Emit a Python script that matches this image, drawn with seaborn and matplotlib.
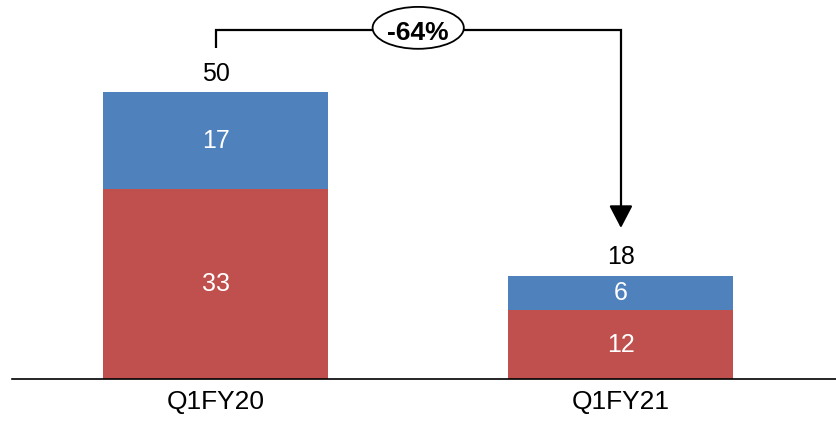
import matplotlib
matplotlib.use("Agg")
import matplotlib.pyplot as plt
from matplotlib.patches import Ellipse
import seaborn as sns
import pandas as pd

categories = ["Q1FY20", "Q1FY21"]
red_values = [33, 12]
blue_values = [17, 6]
change_label = "-64%"

totals = [r + b for r, b in zip(red_values, blue_values)]
df = pd.DataFrame({"period": categories, "red": red_values, "total": totals})

RED = "#C0504D"
BLUE = "#4F81BD"

sns.set_theme(style="white")
plt.rcParams["font.family"] = ["Liberation Sans", "DejaVu Sans"]

fig = plt.figure(figsize=(8.37, 4.23), dpi=100)
ax = fig.add_axes([12 / 837, 44 / 423, 1 - 12 / 837, 379 / 423])

# Stacked bars: full total in blue, lower segment in red over it
sns.barplot(data=df, x="period", y="total", color=BLUE, width=0.555,
            saturation=1, ax=ax, linewidth=0)
sns.barplot(data=df, x="period", y="red", color=RED, width=0.555,
            saturation=1, ax=ax, linewidth=0)

ax.set_xlim(-0.502, 1.533)
ax.set_ylim(0, 66)

for i, (r, b, t) in enumerate(zip(red_values, blue_values, totals)):
    ax.text(i, r / 2, f"{r}", ha="center", va="center", color="white", fontsize=18)
    ax.text(i, r + b / 2, f"{b}", ha="center", va="center", color="white", fontsize=18)
    ax.text(i, t + 1.1, f"{t}", ha="center", va="bottom", color="black", fontsize=18)

# Change bracket from first to second bar
y_top = 60.8
y_start = totals[0] + 7.7
y_end = totals[1] + 8.3
ax.plot([0, 0, 1, 1], [y_start, y_top, y_top, y_end + 2.5], color="black",
        lw=1.6, solid_capstyle="butt", solid_joinstyle="miter", clip_on=False)
ax.annotate("", xy=(1, y_end), xytext=(1, y_end + 3.0),
            arrowprops=dict(arrowstyle="-|>,head_length=1.15,head_width=0.6",
                            color="black", lw=1.6, shrinkA=0, shrinkB=0))
ax.add_patch(Ellipse((0.5, 61.15), 0.225, 7.3, facecolor="white",
                     edgecolor="black", lw=1.3, zorder=5, clip_on=False))
ax.text(0.5, 60.3, change_label, ha="center", va="center", fontsize=19,
        fontweight="bold", color="black", zorder=6)

ax.set_xlabel("")
ax.set_ylabel("")
ax.set_yticks([])
ax.tick_params(axis="x", length=0, labelsize=19, labelcolor="black", pad=8)
for side in ["top", "left", "right"]:
    ax.spines[side].set_visible(False)
ax.spines["bottom"].set_color("black")
ax.spines["bottom"].set_linewidth(1.2)

fig.savefig("out.png", dpi=100, facecolor="white")
